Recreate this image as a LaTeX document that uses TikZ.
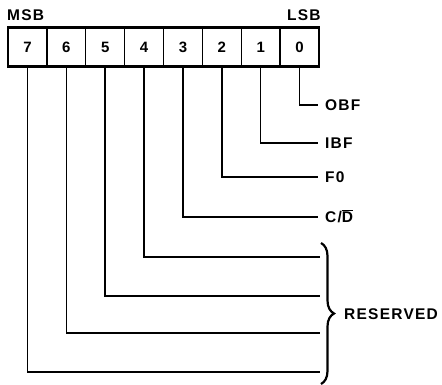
\documentclass[tikz,border=0pt]{standalone}
\usepackage{fontspec}
\setmainfont{Liberation Sans}[LetterSpace=8]
\usetikzlibrary{decorations.pathreplacing}
\begin{document}
\begin{tikzpicture}[x=1pt,y=-1pt,
  lab/.style={font=\fontsize{15.5}{15.5}\selectfont\bfseries, inner sep=0pt, anchor=base west},
  cell/.style={draw, line width=1.3pt, minimum width=38.875pt, minimum height=38pt, inner sep=0pt, font=\fontsize{15}{15}\selectfont\bfseries},
  conn/.style={line width=1.6pt}]
\useasboundingbox (0,0) rectangle (442,385);
\foreach \b [count=\k from 0] in {7,6,5,4,3,2,1,0}
  \node[cell] (b\b) at ({8+38.875*(\k+0.5)},47) {\b};
\node[draw, line width=2.8pt, minimum width=311pt, minimum height=40pt, inner sep=0pt] (reg) at (163.5,47) {};
\node[lab] (msb) at (7,20.5) {MSB};
\node[lab] (lsb) at (287,20.5) {LSB};
% labelled bits
\node[lab] (obf) at (325,110.5) {OBF};
\node[lab] (ibf) at (325,148.5) {IBF};
\node[lab] (fz) at (325,182.5) {F0};
\node[lab] (cd) at (325,222.5) {C/$\overline{\hbox{D}}$};
\draw[conn] (b0.south) |- (318,105);
\draw[conn] (b1.south) |- (318,143);
\draw[conn] (b2.south) |- (318,177);
\draw[conn] (b3.south) |- (318,217);
% reserved bits
\coordinate (r4) at (320,257);
\coordinate (r5) at (320,296);
\coordinate (r6) at (320,333);
\coordinate (r7) at (320,372);
\draw[conn] (b4.south) |- (r4);
\draw[conn] (b5.south) |- (r5);
\draw[conn] (b6.south) |- (r6);
\draw[conn] (b7.south) |- (r7);
\coordinate (bt) at (321,243);
\coordinate (bb) at (321,384);
\draw[decorate, decoration={brace, amplitude=13pt}, line width=2.2pt] (bt) -- (bb);
\node[lab] (res) at (344,319) {RESERVED};
\end{tikzpicture}
\end{document}
